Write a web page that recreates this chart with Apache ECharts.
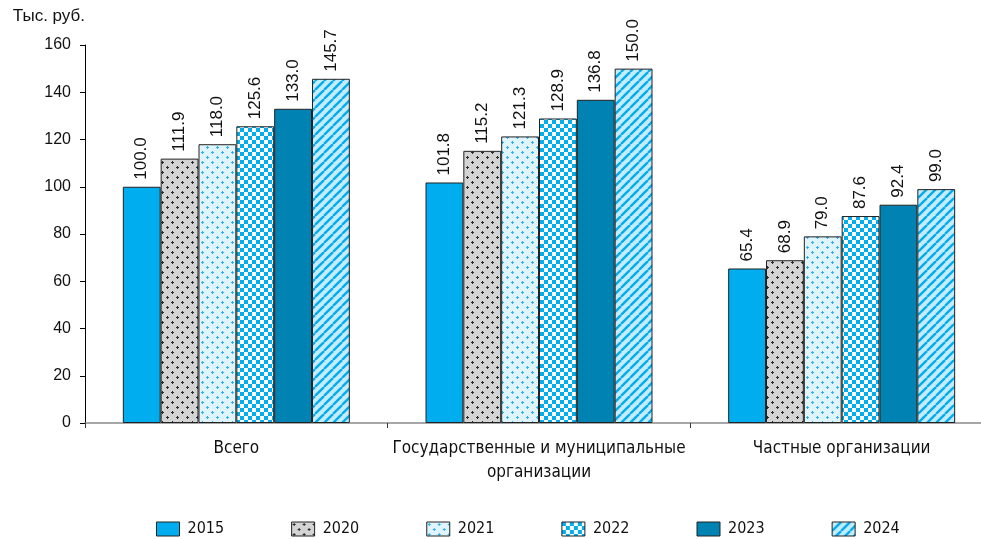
<!DOCTYPE html>
<html><head><meta charset="utf-8">
<script src="https://cdn.jsdelivr.net/npm/echarts@6/dist/echarts.min.js"></script>
<style>html,body{margin:0;padding:0;background:#fff}#c{width:981px;height:539px}</style>
</head><body><div id="c"></div>
<script>
const categories = ['Всего', 'Государственные и муниципальные\nорганизации', 'Частные организации'];
const years = ['2015', '2020', '2021', '2022', '2023', '2024'];
const v2015 = [100.0, 101.8, 65.4];
const v2020 = [111.9, 115.2, 68.9];
const v2021 = [118.0, 121.3, 79.0];
const v2022 = [125.6, 128.9, 87.6];
const v2023 = [133.0, 136.8, 92.4];
const v2024 = [145.7, 150.0, 99.0];
const seriesValues = [v2015, v2020, v2021, v2022, v2023, v2024];
const yTicks = [0, 20, 40, 60, 80, 100, 120, 140, 160];

function canvasOf(w, h, draw) {
  const c = document.createElement('canvas');
  c.width = w; c.height = h;
  draw(c.getContext('2d'), w, h);
  return c;
}
function dots(bg, fg) {
  return canvasOf(10, 10, (g, w, h) => {
    g.fillStyle = bg; g.fillRect(0, 0, w, h);
    g.fillStyle = fg;
    const plus = (x, y) => { g.fillRect(x, y + 1, 3, 1); g.fillRect(x + 1, y, 1, 3); };
    plus(1, 1); plus(6, 6);
  });
}
function checker(a, b) {
  return canvasOf(8, 8, (g) => {
    g.fillStyle = b; g.fillRect(0, 0, 8, 8);
    g.fillStyle = a; g.fillRect(0, 0, 4, 4); g.fillRect(4, 4, 4, 4);
  });
}
function stripes(bg, fg) {
  return canvasOf(9, 9, (g) => {
    g.fillStyle = bg; g.fillRect(0, 0, 9, 9);
    g.strokeStyle = fg; g.lineWidth = 2.4;
    for (let k = -9; k <= 18; k += 9) {
      g.beginPath(); g.moveTo(k, 9); g.lineTo(k + 9, 0); g.stroke();
    }
  });
}
const fills = [
  '#00aeef',
  {image: dots('#d4d4d4', '#2b2b2b'), repeat: 'repeat'},
  {image: dots('#e0f4fd', '#2bb3ec'), repeat: 'repeat'},
  {image: checker('#00aeef', '#ffffff'), repeat: 'repeat'},
  '#0083b3',
  {image: stripes('#c6ebfa', '#00aeef'), repeat: 'repeat'}
];

const chart = echarts.init(document.getElementById('c'), null, {renderer: 'canvas'});
const FONT = 'Liberation Sans';
const CFONT = 'DejaVu Sans Condensed';
chart.setOption({
  animation: false,
  backgroundColor: '#fff',
  grid: {left: 85, top: 45, width: 908, bottom: 116, containLabel: false, outerBoundsMode: 'none'},
  legend: {
    left: 151, top: 516, icon: 'rect',
    itemWidth: 23, itemHeight: 14, itemGap: 67,
    itemStyle: {borderColor: '#222', borderWidth: 1},
    textStyle: {fontFamily: CFONT, fontSize: 16, color: '#111', padding: [0, 0, 0, 3]},
    data: years
  },
  xAxis: {
    type: 'category', data: categories,
    axisLine: {lineStyle: {color: '#8a8a8a', width: 1.5}},
    axisTick: {show: true, length: 5, lineStyle: {color: '#333'}},
    axisLabel: {interval: 0, fontFamily: CFONT, fontSize: 17, color: '#111', margin: 14, lineHeight: 24}
  },
  yAxis: {
    type: 'value', min: 0, max: 160, interval: 20,
    name: 'Тыс. руб.', nameLocation: 'end', nameGap: 20,
    nameTextStyle: {fontFamily: FONT, fontSize: 17, color: '#111', align: 'right', verticalAlign: 'bottom'},
    axisLine: {show: true, lineStyle: {color: '#000', width: 1}},
    axisTick: {show: true, length: 5, lineStyle: {color: '#000'}},
    splitLine: {show: false},
    axisLabel: {fontFamily: FONT, fontSize: 16, color: '#111', margin: 14,
      formatter: (v) => yTicks.includes(v) ? String(v) : ''}
  },
  series: years.map((y, i) => ({
    name: y, type: 'bar', data: seriesValues[i],
    barGap: '0%', barCategoryGap: '25%',
    itemStyle: {color: fills[i], borderColor: '#222', borderWidth: 1},
    label: {
      show: true, position: 'top', rotate: 90, align: 'left', verticalAlign: 'middle',
      distance: 7, fontFamily: FONT, fontSize: 17, color: '#111',
      formatter: (p) => p.value.toFixed(1)
    }
  }))
});
</script></body></html>
